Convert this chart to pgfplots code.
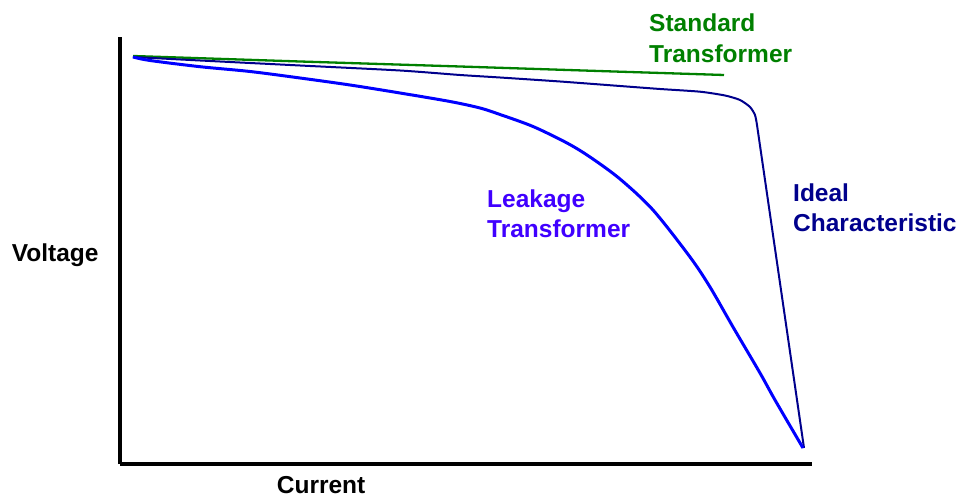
\documentclass[border=0pt]{standalone}
\usepackage{pgfplots}
\pgfplotsset{compat=1.18}
\usepackage{fontspec}
\setmainfont{Liberation Sans}
\definecolor{stdgreen}{RGB}{0,128,0}
\definecolor{idealnavy}{RGB}{0,0,140}
\definecolor{leakblue}{RGB}{0,0,255}
\definecolor{leaktext}{RGB}{64,0,255}
\begin{document}
\begin{tikzpicture}
\begin{axis}[
  scale only axis, width=691.5bp, height=427bp,
  xmin=120.5, xmax=812, ymin=33, ymax=460,
  axis lines=left, axis line style={line width=4bp, -, black},
  xtick=\empty, ytick=\empty, clip=false,
]
\path (axis cs:0,0) rectangle (axis cs:959,497);
% Standard transformer
\addplot[stdgreen, line width=2.3bp, line join=round] coordinates {
 (133,441) (300,435.5) (460,430.5) (620,425.3) (724,422)
};
% Ideal characteristic
\addplot[idealnavy, line width=2bp, line join=round, smooth, tension=0.4] coordinates {
 (133,440) (200,436.5) (300,431.5) (400,426.5) (460,422) (500,419.5)
 (560,415.5) (620,411) (660,408) (700,405.3) (725,401.5) (740,397)
 (750,390) (755,382) (757,372)
};
\addplot[idealnavy, line width=2bp] coordinates {(757,372) (804,49)};
% Leakage transformer
\addplot[leakblue, line width=3bp, line join=round, smooth, tension=0.5] coordinates {
 (133,440) (150,436.5) (200,430.3) (250,425.5) (300,419) (350,412) (400,404)
 (450,395.5) (480,389) (500,382.5) (533,370.5) (567,354) (590,340)
 (620,318) (653,287) (690,240) (710,210) (733,170) (760,124) (775,97) (803,49)
};
\begin{scope}[every node/.style={inner sep=0pt, anchor=base west, font=\fontsize{24.5bp}{28bp}\selectfont\bfseries}]
\node[text=stdgreen] at (axis cs:649,465) {Standard};
\node[text=stdgreen] at (axis cs:649,434) {Transformer};
\node[text=leaktext] at (axis cs:487,289) {Leakage};
\node[text=leaktext] at (axis cs:487,259) {Transformer};
\node[text=idealnavy] at (axis cs:793,295.3) {Ideal};
\node[text=idealnavy] at (axis cs:793,265.3) {Characteristic};
\node[text=black] at (axis cs:11.7,235.3) {Voltage};
\node[text=black] at (axis cs:276.7,4) {Current};
\end{scope}
\end{axis}
\end{tikzpicture}
\end{document}
